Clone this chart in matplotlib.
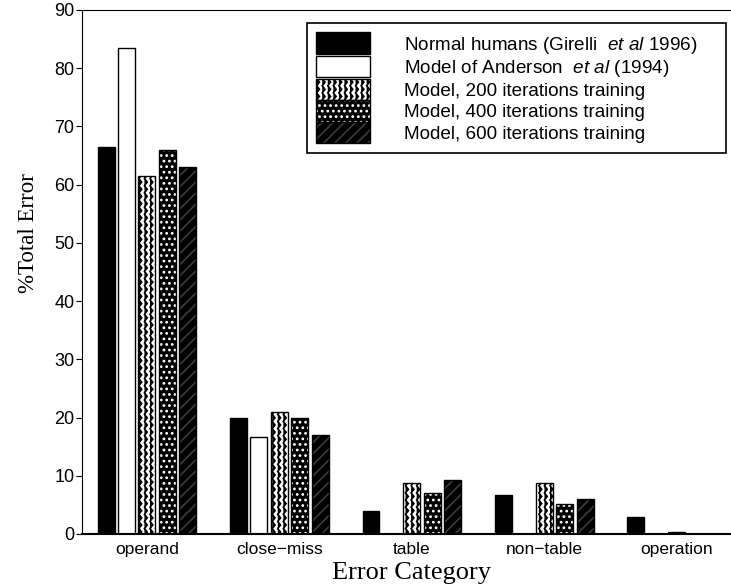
import warnings
import numpy as np
import matplotlib
matplotlib.use("Agg")
import matplotlib.pyplot as plt
import matplotlib.hatch as mhatch
from matplotlib.path import Path
from matplotlib.patches import Patch
from matplotlib.legend_handler import HandlerTuple

warnings.filterwarnings("ignore")

categories = ["operand", "close\u2212miss", "table", "non\u2212table", "operation"]
series_names = [
    r"Normal humans (Girelli  $\it{et\ al}$ 1996)",
    r"Model of Anderson  $\it{et\ al}$ (1994)",
    "Model, 200 iterations training",
    "Model, 400 iterations training",
    "Model, 600 iterations training",
]
humans = [66.5, 20.0, 4.0, 6.7, 3.0]
anderson = [83.5, 16.7, 0.0, 0.0, 0.0]
model_200 = [61.5, 21.0, 8.7, 8.7, 0.4]
model_400 = [66.0, 20.0, 7.0, 5.2, 0.0]
model_600 = [63.0, 17.0, 9.2, 6.0, 0.0]
yticks = [0, 10, 20, 30, 40, 50, 60, 70, 80, 90]


# vertical zigzag hatch, selected with the letter "z"
class ZigZagHatch(mhatch.HatchPatternBase):
    def __init__(self, hatch, density):
        self.num_cols = int(hatch.count("z") * density)
        self.num_steps = 2 * int(round(self.num_cols * 0.8))
        self.num_vertices = self.num_cols * (self.num_steps + 1)

    def set_vertices_and_codes(self, vertices, codes):
        n = self.num_cols
        m = self.num_steps + 1
        k = np.arange(m)
        for i in range(n):
            vertices[i * m:(i + 1) * m, 0] = i / n + 0.5 / n * (k % 2)
            vertices[i * m:(i + 1) * m, 1] = k / self.num_steps
            codes[i * m:(i + 1) * m] = Path.LINETO
            codes[i * m] = Path.MOVETO


mhatch._hatch_types.append(ZigZagHatch)

plt.rcParams["font.family"] = ["Liberation Sans", "DejaVu Sans"]
plt.rcParams["mathtext.fontset"] = "custom"
plt.rcParams["mathtext.it"] = "Liberation Sans:italic"
plt.rcParams["mathtext.rm"] = "Liberation Sans"
plt.rcParams["hatch.linewidth"] = 1.2

# (face, hatch, hatch colour) for each series
styles = [
    ("black", None, "black"),
    ("white", None, "white"),
    ("white", "zzz", "black"),
    ("black", "...", "white"),
    ("black", "///", "#3c3c3c"),
]
data = [humans, anderson, model_200, model_400, model_600]

fig = plt.figure(figsize=(7.31, 5.86), dpi=100)
ax = fig.add_axes([82 / 731, 52 / 586, 649 / 731, 524 / 586])

x = np.arange(len(categories))
width = 0.128
step = 0.154
handles = []
for i, (vals, (fc, hatch, hc)) in enumerate(zip(data, styles)):
    pos = x + (i - 2) * step
    ax.bar(pos, vals, width, color=fc, hatch=hatch, edgecolor=hc, linewidth=0)
    ax.bar(pos, vals, width, fill=False, edgecolor="black", linewidth=1.0)
    handles.append((Patch(facecolor=fc, hatch=hatch, edgecolor=hc, linewidth=0),
                    Patch(fill=False, edgecolor="black", linewidth=1.0)))

ax.set_xlim(-0.49, 4.41)
ax.set_ylim(0, 90)
ax.set_xticks(x)
ax.set_xticklabels(categories, fontsize=12.5)
ax.set_yticks(yticks)
ax.tick_params(axis="x", length=0, pad=6)
ax.tick_params(axis="y", direction="out", length=4, labelsize=13, pad=1.5)
ax.spines["right"].set_visible(False)
ax.spines["bottom"].set_linewidth(1.5)

ax.set_xlabel("Error Category", family="Liberation Serif", fontsize=19)
ax.xaxis.set_label_coords(0.508, -0.074)
ax.xaxis.label.set_va("center")
ax.set_ylabel("%Total Error", family="Liberation Serif", fontsize=16.5)
ax.yaxis.set_label_coords(-0.083, 0.574)
ax.yaxis.label.set_va("center")

leg = fig.legend(handles, series_names, loc="upper left", mode="expand",
                 bbox_to_anchor=(307 / 731, 1 - 153 / 586, 419 / 731, 130 / 586),
                 handler_map={tuple: HandlerTuple(ndivide=1)},
                 fontsize=13.6, handlelength=2.86, handleheight=1.38,
                 labelspacing=0, handletextpad=1.75, borderpad=0.5,
                 borderaxespad=0, fancybox=False, framealpha=1,
                 edgecolor="black")
leg.get_frame().set_linewidth(1.2)

fig.savefig("out.png", dpi=100)
